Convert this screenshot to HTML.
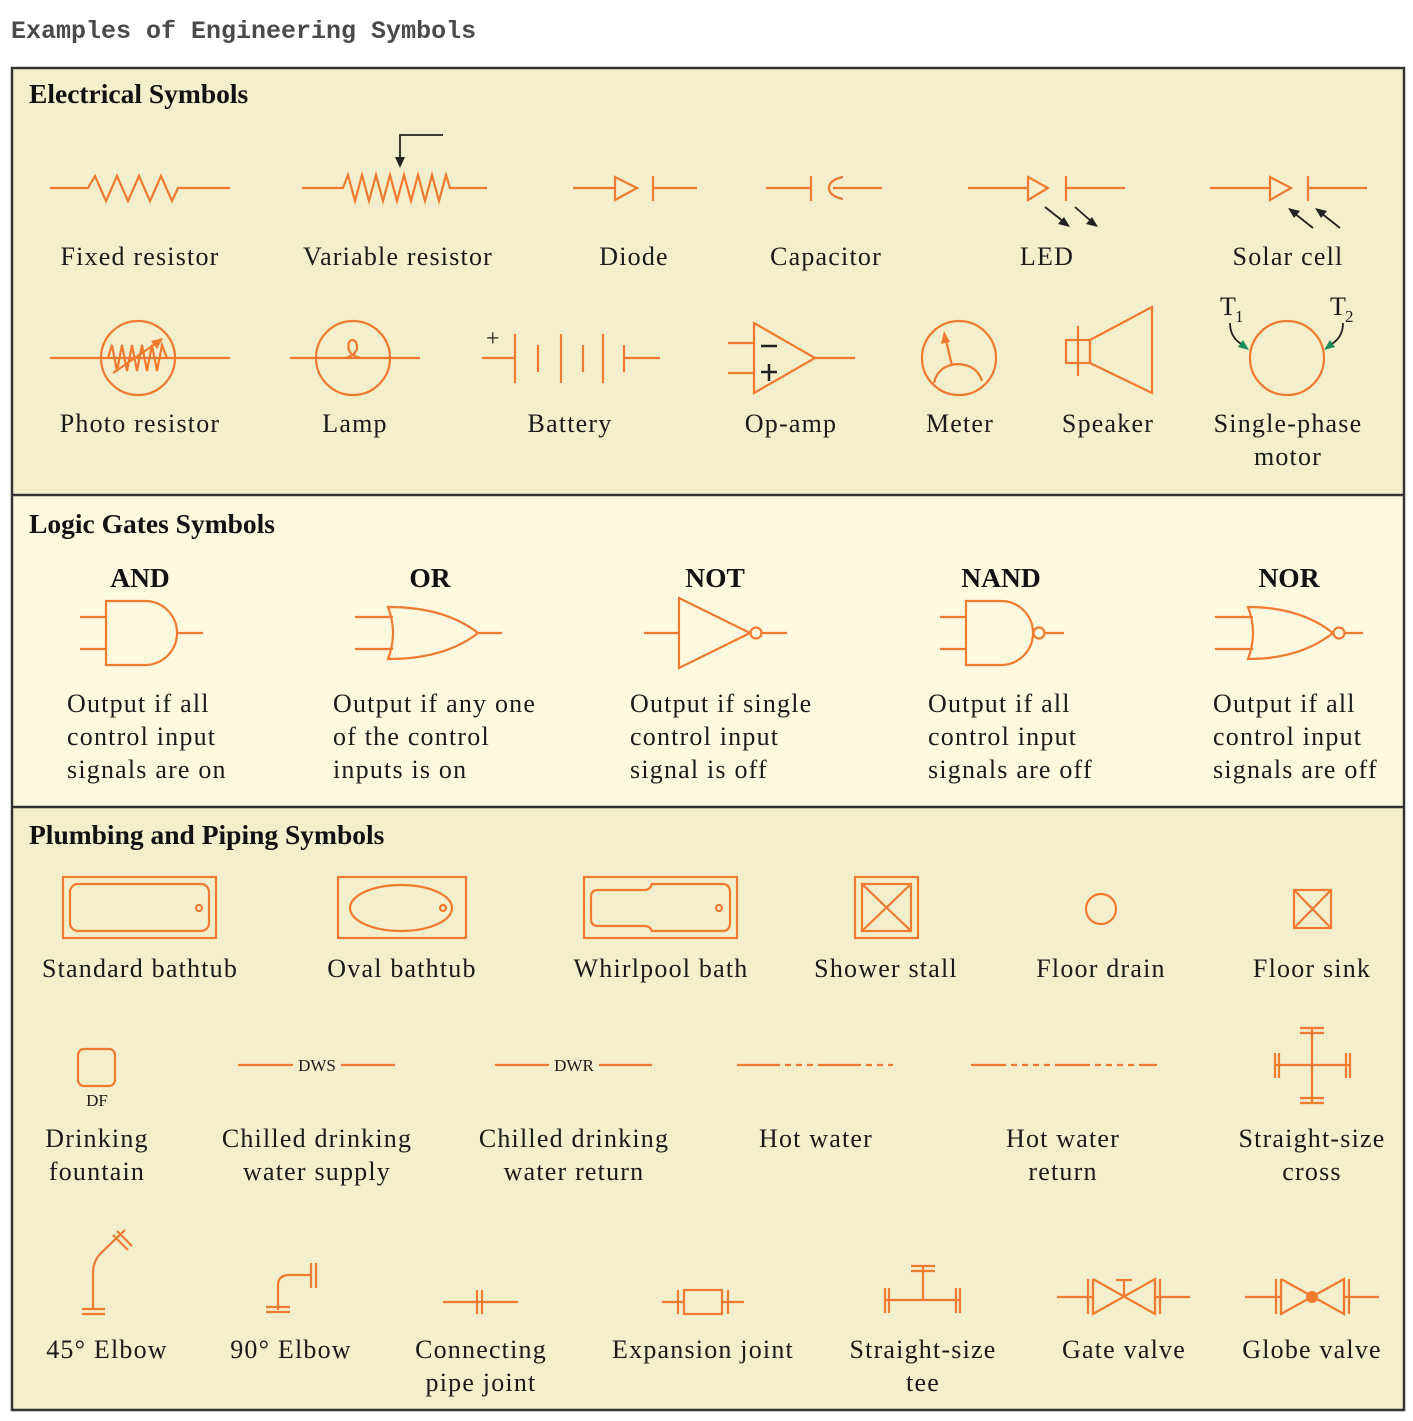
<!DOCTYPE html>
<html><head><meta charset="utf-8"><style>
html,body{margin:0;padding:0;background:#fff;}
svg{display:block;}
.o{stroke:#f07a30;stroke-width:2.2;fill:none;}
.k{stroke:#222;stroke-width:1.8;fill:none;}
.t{font-family:"Liberation Serif",serif;font-size:26px;fill:#1a1a1a;letter-spacing:1.2px;}
.h{font-family:"Liberation Serif",serif;font-size:27.5px;font-weight:bold;fill:#111;}
</style></head><body>
<svg width="1413" height="1421" viewBox="0 0 1413 1421" xmlns="http://www.w3.org/2000/svg">
<text x="11" y="38" font-family="Liberation Mono,monospace" font-weight="bold" font-size="25" fill="#4a4a4a">Examples of Engineering Symbols</text>
<rect x="12" y="68" width="1392" height="427" fill="#f3eecb"/>
<rect x="12" y="495" width="1392" height="312" fill="#fcf9de"/>
<rect x="12" y="807" width="1392" height="603" fill="#f3eecb"/>
<rect x="12" y="68" width="1392" height="1342" fill="none" stroke="#333" stroke-width="2.5"/>
<line x1="12" y1="495" x2="1404" y2="495" stroke="#333" stroke-width="2.5"/>
<line x1="12" y1="807" x2="1404" y2="807" stroke="#333" stroke-width="2.5"/>

<text class="h" x="29" y="103">Electrical Symbols</text>
<text class="h" x="29" y="533">Logic Gates Symbols</text>
<text class="h" x="29" y="844">Plumbing and Piping Symbols</text>

<polyline class="o" points="50,188 88,188 95,176 106,201 117,176 128,201 139,176 150,201 161,176 172,201 178,188 230,188"/>
<polyline class="o" points="302,188 343,188 348,175 355,201 362,175 369,201 376,175 383,201 390,175 397,201 404,175 411,201 418,175 425,201 432,175 439,201 446,175 450,188 487,188"/>
<polyline class="k" points="443,135 400,135 400,158"/><polygon points="395,157 405,157 400,168" fill="#222"/>

<line class="o" x1="573" y1="188" x2="615" y2="188"/><polygon class="o" points="615,177 615,200 637,188"/><line class="o" x1="653" y1="176" x2="653" y2="201"/><line class="o" x1="653" y1="188" x2="697" y2="188"/>
<line class="o" x1="766" y1="188" x2="811" y2="188"/><line class="o" x1="811" y1="176" x2="811" y2="201"/><path class="o" d="M843,177 Q829,180 829,188 Q829,196 843,199"/><line class="o" x1="833" y1="188" x2="882" y2="188"/>

<line class="o" x1="968" y1="188" x2="1028" y2="188"/><polygon class="o" points="1028,177 1028,200 1048,188"/><line class="o" x1="1066" y1="176" x2="1066" y2="201"/><line class="o" x1="1066" y1="188" x2="1125" y2="188"/>
<line class="k" x1="1045" y1="207" x2="1064" y2="222"/><polygon points="1070,227 1058,224 1064,217" fill="#222"/>
<line class="k" x1="1075" y1="207" x2="1092" y2="222"/><polygon points="1098,227 1086,224 1092,217" fill="#222"/>

<line class="o" x1="1210" y1="188" x2="1270" y2="188"/><polygon class="o" points="1270,177 1270,200 1291,188"/><line class="o" x1="1308" y1="176" x2="1308" y2="201"/><line class="o" x1="1308" y1="188" x2="1367" y2="188"/>
<line class="k" x1="1313" y1="228" x2="1294" y2="213"/><polygon points="1288,208 1300,211 1294,218" fill="#222"/>
<line class="k" x1="1340" y1="228" x2="1321" y2="213"/><polygon points="1315,208 1327,211 1321,218" fill="#222"/>

<g class="t" text-anchor="middle">
<text x="140" y="265">Fixed resistor</text><text x="398" y="265">Variable resistor</text><text x="634" y="265">Diode</text><text x="826" y="265">Capacitor</text><text x="1047" y="265">LED</text><text x="1288" y="265">Solar cell</text>
</g>

<line class="o" x1="50" y1="358" x2="230" y2="358"/><circle class="o" cx="138" cy="358" r="37"/>
<polyline class="o" points="108,358 112,345 117,371 122,345 127,371 132,345 137,371 142,345 147,371 152,345 157,371 162,345 167,358"/>
<line class="o" x1="113" y1="373" x2="158" y2="342"/><polygon points="163,338 151,341 157,349" fill="#f07a30"/>

<line class="o" x1="290" y1="358" x2="420" y2="358"/><circle class="o" cx="353" cy="358" r="37"/><path class="o" d="M345,358 Q356,355 357,348 Q357,340 352,340 Q347,341 349,350 Q351,356 361,358"/>

<text x="486" y="346" font-family="Liberation Serif,serif" font-size="24" fill="#222">+</text>
<line class="o" x1="482" y1="358" x2="515" y2="358"/><line class="o" x1="515" y1="334" x2="515" y2="383"/><line class="o" x1="538" y1="345" x2="538" y2="372"/><line class="o" x1="561" y1="334" x2="561" y2="383"/><line class="o" x1="583" y1="345" x2="583" y2="372"/><line class="o" x1="603" y1="334" x2="603" y2="383"/><line class="o" x1="624" y1="345" x2="624" y2="372"/><line class="o" x1="624" y1="358" x2="660" y2="358"/>

<polygon class="o" points="754,323 754,393 815,358"/><line class="o" x1="815" y1="358" x2="855" y2="358"/><line class="o" x1="728" y1="343" x2="754" y2="343"/><line class="o" x1="728" y1="373" x2="754" y2="373"/>
<line x1="761" y1="346" x2="777" y2="346" stroke="#222" stroke-width="2.5"/><line x1="761" y1="372" x2="777" y2="372" stroke="#222" stroke-width="2.5"/><line x1="769" y1="364" x2="769" y2="381" stroke="#222" stroke-width="2.5"/>

<circle class="o" cx="959" cy="358" r="37"/><path class="o" d="M934,383 Q938,365 958,364 Q977,365 982,381"/><line class="o" x1="952" y1="366" x2="946" y2="340"/><polygon points="944,331 941,344 950,342" fill="#f07a30"/>

<rect class="o" x="1066" y="340" width="24" height="23"/><line class="o" x1="1078" y1="326" x2="1078" y2="376"/><polygon class="o" points="1090,340 1152,307 1152,393 1090,363"/>

<circle class="o" cx="1287" cy="358" r="37"/>
<text x="1220" y="315" class="t">T</text><text x="1235" y="322" font-family="Liberation Serif,serif" font-size="17" fill="#1a1a1a">1</text>
<text x="1330" y="315" class="t">T</text><text x="1345" y="322" font-family="Liberation Serif,serif" font-size="17" fill="#1a1a1a">2</text>
<path class="k" stroke-width="1.3" d="M1230,323 Q1230,338 1243,345"/><polygon points="1249,350 1238,347 1243,340" fill="#1a8a5a"/>
<path class="k" stroke-width="1.3" d="M1343,323 Q1343,338 1330,345"/><polygon points="1324,350 1335,347 1330,340" fill="#1a8a5a"/>

<g class="t" text-anchor="middle">
<text x="140" y="432">Photo resistor</text><text x="355" y="432">Lamp</text><text x="570" y="432">Battery</text><text x="791" y="432">Op-amp</text><text x="960" y="432">Meter</text><text x="1108" y="432">Speaker</text><text x="1288" y="432">Single-phase</text><text x="1288" y="465">motor</text>
</g>

<g class="h" text-anchor="middle"><text x="140" y="587">AND</text><text x="430" y="587">OR</text><text x="715" y="587">NOT</text><text x="1001" y="587">NAND</text><text x="1289" y="587">NOR</text></g>
<path class="o" d="M106,601 L145,601 A32,32 0 0 1 145,665 L106,665 Z"/><line class="o" x1="80" y1="617" x2="106" y2="617"/><line class="o" x1="80" y1="649" x2="106" y2="649"/><line class="o" x1="177" y1="633" x2="203" y2="633"/>
<path class="o" d="M388,607 Q398,633 388,659 Q445,659 478,633 Q445,607 388,607 Z"/><line class="o" x1="355" y1="617" x2="393" y2="617"/><line class="o" x1="355" y1="649" x2="393" y2="649"/><line class="o" x1="478" y1="633" x2="502" y2="633"/>
<polygon class="o" points="679,598 679,668 750,633"/><circle class="o" cx="756" cy="633" r="5.5"/><line class="o" x1="644" y1="633" x2="679" y2="633"/><line class="o" x1="762" y1="633" x2="787" y2="633"/>
<path class="o" d="M966,601 L1001,601 A32,32 0 0 1 1001,665 L966,665 Z"/><line class="o" x1="940" y1="617" x2="966" y2="617"/><line class="o" x1="940" y1="649" x2="966" y2="649"/><circle class="o" cx="1039" cy="633" r="5.5"/><line class="o" x1="1045" y1="633" x2="1064" y2="633"/>
<path class="o" d="M1248,607 Q1258,633 1248,659 Q1300,659 1333,633 Q1300,607 1248,607 Z"/><line class="o" x1="1215" y1="617" x2="1253" y2="617"/><line class="o" x1="1215" y1="649" x2="1253" y2="649"/><circle class="o" cx="1339" cy="633" r="5.5"/><line class="o" x1="1345" y1="633" x2="1363" y2="633"/>
<g class="t">
<text x="67" y="712">Output if all</text><text x="67" y="745">control input</text><text x="67" y="778">signals are on</text>
<text x="333" y="712">Output if any one</text><text x="333" y="745">of the control</text><text x="333" y="778">inputs is on</text>
<text x="630" y="712">Output if single</text><text x="630" y="745">control input</text><text x="630" y="778">signal is off</text>
<text x="928" y="712">Output if all</text><text x="928" y="745">control input</text><text x="928" y="778">signals are off</text>
<text x="1213" y="712">Output if all</text><text x="1213" y="745">control input</text><text x="1213" y="778">signals are off</text>
</g>

<rect class="o" x="63" y="877" width="153" height="61"/><rect class="o" x="70" y="884" width="139" height="47" rx="8"/><circle class="o" cx="199" cy="908" r="3"/>
<rect class="o" x="338" y="877" width="128" height="61"/><ellipse class="o" cx="401" cy="908" rx="51" ry="23"/><circle class="o" cx="443" cy="908" r="3"/>
<rect class="o" x="584" y="877" width="153" height="61"/><path class="o" d="M598,890 L645,890 Q650,890 652,884 L722,884 Q730,884 730,892 L730,923 Q730,931 722,931 L652,931 Q650,926 645,926 L598,926 Q591,926 591,919 L591,897 Q591,890 598,890 Z"/><circle class="o" cx="719" cy="908" r="3"/>
<rect class="o" x="855" y="877" width="63" height="61"/><rect class="o" x="862" y="884" width="49" height="47"/><line class="o" x1="862" y1="884" x2="911" y2="931"/><line class="o" x1="911" y1="884" x2="862" y2="931"/>
<circle class="o" cx="1101" cy="909" r="15"/>
<rect class="o" x="1294" y="890" width="37" height="38"/><line class="o" x1="1294" y1="890" x2="1331" y2="928"/><line class="o" x1="1331" y1="890" x2="1294" y2="928"/>
<g class="t" text-anchor="middle"><text x="140" y="977">Standard bathtub</text><text x="402" y="977">Oval bathtub</text><text x="661" y="977">Whirlpool bath</text><text x="886" y="977">Shower stall</text><text x="1101" y="977">Floor drain</text><text x="1312" y="977">Floor sink</text></g>

<rect class="o" x="78" y="1049" width="37" height="37" rx="6"/><text x="97" y="1106" text-anchor="middle" font-family="Liberation Serif,serif" font-size="17" fill="#1a1a1a">DF</text>
<line class="o" x1="238" y1="1065" x2="293" y2="1065"/><text x="317" y="1071" text-anchor="middle" font-family="Liberation Serif,serif" font-size="17" fill="#1a1a1a">DWS</text><line class="o" x1="341" y1="1065" x2="395" y2="1065"/>
<line class="o" x1="495" y1="1065" x2="549" y2="1065"/><text x="574" y="1071" text-anchor="middle" font-family="Liberation Serif,serif" font-size="17" fill="#1a1a1a">DWR</text><line class="o" x1="599" y1="1065" x2="652" y2="1065"/>
<line class="o" x1="737" y1="1065" x2="893" y2="1065" stroke-dasharray="43,5,6,5,6,5,6,5"/>
<line class="o" x1="971" y1="1065" x2="1157" y2="1065" stroke-dasharray="35,5,6,5,6,5,6,5,6,5"/>
<g class="o"><line x1="1312" y1="1028" x2="1312" y2="1103"/><line x1="1275" y1="1065" x2="1350" y2="1065"/><line x1="1300" y1="1028" x2="1324" y2="1028"/><line x1="1300" y1="1033" x2="1324" y2="1033"/><line x1="1300" y1="1098" x2="1324" y2="1098"/><line x1="1300" y1="1103" x2="1324" y2="1103"/><line x1="1275" y1="1053" x2="1275" y2="1078"/><line x1="1279" y1="1053" x2="1279" y2="1078"/><line x1="1346" y1="1053" x2="1346" y2="1078"/><line x1="1350" y1="1053" x2="1350" y2="1078"/></g>
<g class="t" text-anchor="middle"><text x="97" y="1147">Drinking</text><text x="97" y="1180">fountain</text><text x="317" y="1147">Chilled drinking</text><text x="317" y="1180">water supply</text><text x="574" y="1147">Chilled drinking</text><text x="574" y="1180">water return</text><text x="816" y="1147">Hot water</text><text x="1063" y="1147">Hot water</text><text x="1063" y="1180">return</text><text x="1312" y="1147">Straight-size</text><text x="1312" y="1180">cross</text></g>

<g class="o">
<path d="M93,1310 L93,1272 Q93,1262 100,1254 L125,1230"/><line x1="82" y1="1309" x2="105" y2="1309"/><line x1="82" y1="1314" x2="105" y2="1314"/><line x1="113" y1="1235" x2="128" y2="1250"/><line x1="117" y1="1231" x2="132" y2="1246"/>
<path d="M278,1310 L278,1285 Q278,1275 290,1275 L312,1275"/><line x1="266" y1="1307" x2="290" y2="1307"/><line x1="266" y1="1312" x2="290" y2="1312"/><line x1="311" y1="1263" x2="311" y2="1288"/><line x1="316" y1="1263" x2="316" y2="1288"/>
<line x1="443" y1="1302" x2="518" y2="1302"/><line x1="477" y1="1290" x2="477" y2="1314"/><line x1="482" y1="1290" x2="482" y2="1314"/>
<rect x="684" y="1290" width="38" height="24"/><line x1="662" y1="1302" x2="684" y2="1302"/><line x1="722" y1="1302" x2="744" y2="1302"/><line x1="678" y1="1290" x2="678" y2="1314"/><line x1="728" y1="1290" x2="728" y2="1314"/>
<line x1="885" y1="1300" x2="960" y2="1300"/><line x1="923" y1="1300" x2="923" y2="1267"/><line x1="911" y1="1266" x2="935" y2="1266"/><line x1="911" y1="1271" x2="935" y2="1271"/><line x1="885" y1="1288" x2="885" y2="1313"/><line x1="889" y1="1288" x2="889" y2="1313"/><line x1="956" y1="1288" x2="956" y2="1313"/><line x1="960" y1="1288" x2="960" y2="1313"/>
<line x1="1057" y1="1297" x2="1092" y2="1297"/><line x1="1155" y1="1297" x2="1190" y2="1297"/><line x1="1088" y1="1279" x2="1088" y2="1314"/><line x1="1093" y1="1279" x2="1093" y2="1314"/><line x1="1155" y1="1279" x2="1155" y2="1314"/><line x1="1160" y1="1279" x2="1160" y2="1314"/><polyline points="1093,1279 1155,1314 1155,1279 1093,1314 1093,1279"/><line x1="1124" y1="1297" x2="1124" y2="1280"/><line x1="1116" y1="1280" x2="1132" y2="1280"/>
<line x1="1245" y1="1297" x2="1280" y2="1297"/><line x1="1344" y1="1297" x2="1379" y2="1297"/><line x1="1276" y1="1279" x2="1276" y2="1314"/><line x1="1281" y1="1279" x2="1281" y2="1314"/><line x1="1344" y1="1279" x2="1344" y2="1314"/><line x1="1349" y1="1279" x2="1349" y2="1314"/><polyline points="1281,1279 1344,1314 1344,1279 1281,1314 1281,1279"/>
</g>
<circle cx="1312" cy="1297" r="6" fill="#f07a30"/>
<g class="t" text-anchor="middle"><text x="107" y="1358">45° Elbow</text><text x="291" y="1358">90° Elbow</text><text x="481" y="1358">Connecting</text><text x="481" y="1391">pipe joint</text><text x="703" y="1358">Expansion joint</text><text x="923" y="1358">Straight-size</text><text x="923" y="1391">tee</text><text x="1124" y="1358">Gate valve</text><text x="1312" y="1358">Globe valve</text></g>
</svg>
</body></html>
